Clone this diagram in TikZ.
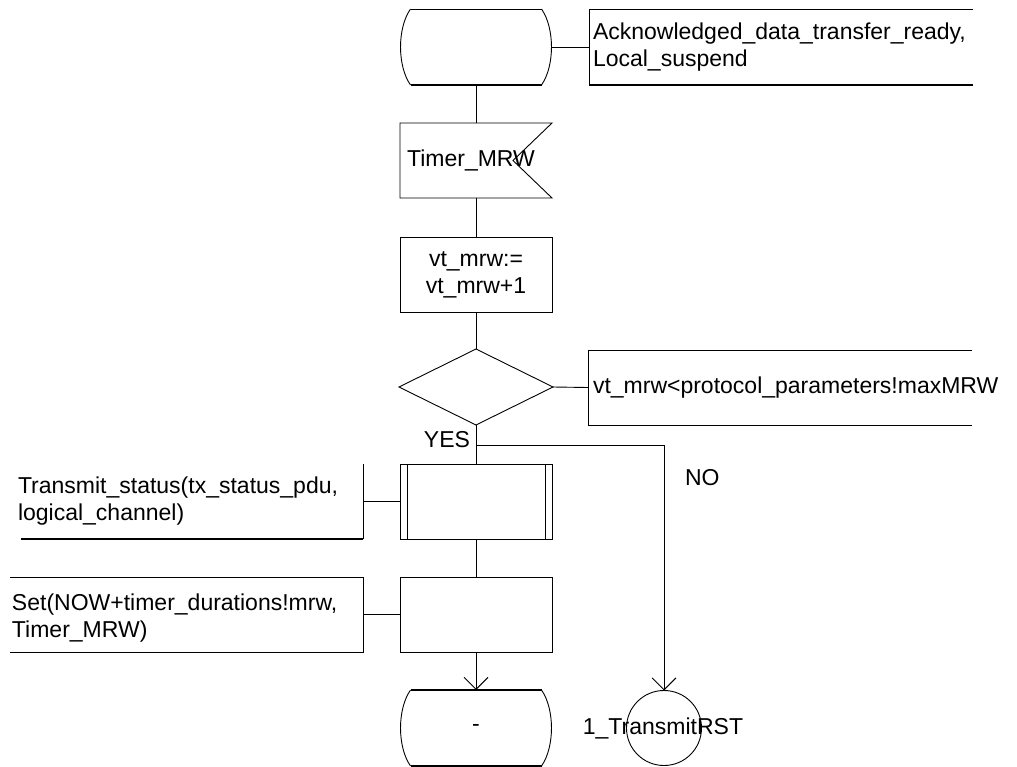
\documentclass[tikz,border=0pt]{standalone}
\usepackage{fontspec}
\setmainfont{Liberation Sans}
\usetikzlibrary{calc,arrows.meta}

% SDL state symbol: straight top/bottom edges, bulging sides
\newcommand\sdlstateoutline[3]{% name, top style, bottom style
  \draw[#2] ($(#1.north west)+(10,0)$) -- ($(#1.north east)+(-10,0)$);
  \draw[#3] ($(#1.south west)+(10,0)$) -- ($(#1.south east)+(-10,0)$);
  \draw ($(#1.north west)+(10,0)$) .. controls ($(#1.west)+(-3.3,-19)$) and ($(#1.west)+(-3.3,19)$) .. ($(#1.south west)+(10,0)$);
  \draw ($(#1.north east)+(-10,0)$) .. controls ($(#1.east)+(3.3,-19)$) and ($(#1.east)+(3.3,19)$) .. ($(#1.south east)+(-10,0)$);
}

\begin{document}
\begin{tikzpicture}[x=1pt,y=-1pt,
  line width=0.9pt,
  every node/.style={font=\fontsize{23}{27}\selectfont, inner sep=0pt, outer sep=0pt},
  frame/.style={minimum width=152pt, minimum height=75pt},
  hidden/.style={frame, draw=none},
  boxed/.style={frame, draw},
  heavy/.style={line width=2pt},
  flow/.style={-{Straight Barb[length=12pt,width=24pt]}},
  note/.style={anchor=west, align=left},
]
\useasboundingbox (0,0) rectangle (1017,767);

% start state and its comment
\node[hidden, minimum width=151pt, minimum height=76pt] (st1) at (476,47) {};
\sdlstateoutline{st1}{}{heavy}
\node[hidden, minimum width=384pt, minimum height=76pt] (cm1) at (781,47) {};
\draw (cm1.north east) -- (cm1.north west) -- (cm1.south west);
\draw[heavy] (cm1.south west) -- (cm1.south east);
\node[note] (cm1t) at ($(cm1.west)+(4,0)$) {Acknowledged\_data\_transfer\_ready,\\Local\_suspend};

% timer input
\node[hidden] (tm) at (476,160.5) {};
\draw (tm.north west) -- (tm.north east) -- ($(tm.east)+(-39,0)$) -- (tm.south east) -- (tm.south west) -- cycle;
\node (tmt) at (471,160) {Timer\_MRW};

% task
\node[boxed, align=center] (tk) at (476,274.5) {vt\_mrw:=\\vt\_mrw+1};

% decision and its comment
\node[hidden, minimum width=154pt, minimum height=76pt] (dc) at (476,387) {};
\draw (dc.north) -- (dc.east) -- (dc.south) -- (dc.west) -- cycle;
\node[hidden, minimum width=384pt, minimum height=75pt] (cm2) at (780,387.5) {};
\draw (cm2.north east) -- (cm2.north west) -- (cm2.south west) -- (cm2.south east);
\node[note] (cm2t) at ($(cm2.west)+(5,0)$) {vt\_mrw<protocol\_parameters!maxMRW};

\node[anchor=east] (yes) at (470,440) {YES};
\node[anchor=west] (no) at (685,478) {NO};

% procedure call and its comment
\node[boxed] (pr) at (476,501.5) {};
\draw ($(pr.north west)+(7,0)$) -- ($(pr.south west)+(7,0)$);
\draw ($(pr.north east)+(-7,0)$) -- ($(pr.south east)+(-7,0)$);
\node[hidden, minimum width=342pt] (cm3) at (192,501.5) {};
\draw (cm3.north east) -- (cm3.south east);
\draw[heavy] (cm3.south east) -- (cm3.south west);
\node[note] (cm3t) at (18,501) {Transmit\_status(tx\_status\_pdu,\\logical\_channel)};

% timer set and its comment
\node[boxed] (sb) at (476,614.5) {};
\node[hidden, minimum width=353pt] (cm4) at (186.5,614.5) {};
\draw (cm4.north west) -- (cm4.north east) -- (cm4.south east) -- (cm4.south west);
\node[note] (cm4t) at (12,618) {Set(NOW+timer\_durations!mrw,\\Timer\_MRW)};

% next state
\node[hidden, minimum width=151pt, minimum height=76pt] (st2) at (476,728) {-};
\sdlstateoutline{st2}{heavy}{heavy}

% connector
\node[draw, circle, minimum size=75pt] (cn) at (664,728) {};
\node (cnt) at (663,728) {1\_TransmitRST};

% flow lines
\draw (st1.south) -- (tm.north);
\draw (st1.east) -- (cm1.west);
\draw (tm.south) -- (tk.north);
\draw (tk.south) -- (dc.north);
\draw (dc.east) -- (cm2.west);
\draw (dc.south) -- (pr.north);
\draw (pr.west) -- (cm3.east);
\draw (pr.south) -- (sb.north);
\draw (sb.west) -- (cm4.east);
\draw[flow] (sb.south) -- (st2.north);
\coordinate (br) at (476,445);
\draw[flow] (br) -| (cn.north);
\end{tikzpicture}
\end{document}
